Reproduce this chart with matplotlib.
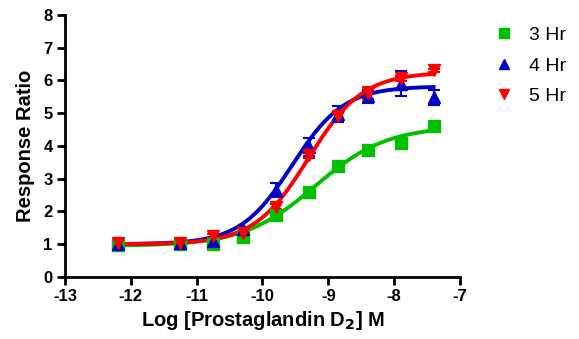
import numpy as np
import matplotlib
matplotlib.use('Agg')
import matplotlib.pyplot as plt

plt.rcParams['font.family'] = ['Liberation Sans', 'DejaVu Sans']
plt.rcParams['axes.unicode_minus'] = False

# log concentrations
logx = [-12.2, -11.25, -10.75, -10.3, -9.8, -9.3, -8.85, -8.4, -7.9, -7.4]

# 3 Hr
y3 = [0.98, 1.0, 1.02, 1.23, 1.89, 2.6, 3.39, 3.88, 4.08, 4.6]
e3 = [0.03, 0.03, 0.03, 0.04, 0.05, 0.06, 0.05, 0.05, 0.08, 0.06]
# 4 Hr
y4 = [1.0, 1.05, 1.1, 1.45, 2.65, 3.97, 4.97, 5.52, 5.9, 5.48]
e4 = [0.03, 0.03, 0.04, 0.05, 0.22, 0.28, 0.25, 0.2, 0.38, 0.22]
# 5 Hr
y5 = [1.05, 1.05, 1.25, 1.35, 2.14, 3.72, 4.9, 5.62, 6.06, 6.31]
e5 = [0.03, 0.03, 0.05, 0.05, 0.08, 0.08, 0.1, 0.18, 0.08, 0.05]

# fitted 4PL parameters (bottom, top, logEC50, hill)
fit3 = (0.95, 4.6, -9.2, 0.8)
fit4 = (1.0, 5.82, -9.55, 1.1)
fit5 = (1.0, 6.25, -9.3, 1.05)

labels = ['3 Hr', '4 Hr', '5 Hr']
colors = ['#00c000', '#0000c8', '#ff0000']
markers = ['s', '^', 'v']


def fourpl(x, p):
    bottom, top, ec50, hill = p
    return bottom + (top - bottom) / (1 + 10 ** ((ec50 - x) * hill))


fig = plt.figure(figsize=(5.79, 3.39), dpi=100)
ax = fig.add_axes([0.1123, 0.183, 0.682, 0.773])

xs = np.linspace(min(logx), max(logx), 300)
handles = []
for y, e, p, c, m, lab in zip([y3, y4, y5], [e3, e4, e5], [fit3, fit4, fit5],
                              colors, markers, labels):
    ax.plot(xs, fourpl(xs, p), color=c, lw=2.8, zorder=2)
    ax.errorbar(logx, y, yerr=e, fmt='none', ecolor=c, elinewidth=1.5,
                capsize=4, capthick=1.5, zorder=3)
    h, = ax.plot(logx, y, linestyle='none', marker=m, color=c, ms=8,
                 zorder=4, label=lab)
    handles.append(h)

ax.set_xlim(-13, -7)
ax.set_ylim(0, 8)
ax.set_xticks(range(-13, -6))
ax.set_yticks(range(0, 9))
for s in ['top', 'right']:
    ax.spines[s].set_visible(False)
for s in ['left', 'bottom']:
    ax.spines[s].set_linewidth(2)
ax.tick_params(width=2, length=6, labelsize=12, pad=3)
for t in ax.get_xticklabels() + ax.get_yticklabels():
    t.set_fontweight('bold')

ax.set_xlabel('Log [Prostaglandin D$_\\mathbf{2}$] M', fontsize=14.5,
              fontweight='bold', labelpad=3)
ax.set_ylabel('Response Ratio', fontsize=14.5, fontweight='bold', labelpad=6)

leg = ax.legend(handles=handles, loc='upper left', bbox_to_anchor=(1.042, 1.022),
                frameon=False, fontsize=14, handlelength=1, handletextpad=0.8,
                labelspacing=0.66, markerscale=0.9)

fig.savefig('out.png', dpi=100)
